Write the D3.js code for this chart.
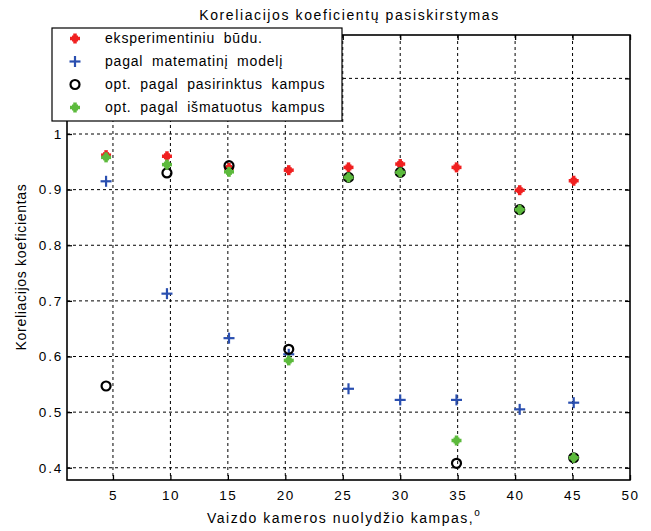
<!DOCTYPE html>
<html><head><meta charset="utf-8">
<script src="https://cdn.jsdelivr.net/npm/d3@7"></script>
<style>body{margin:0;background:#fff}text{font-family:"Liberation Sans",Arial,sans-serif;}</style>
</head><body><svg id="c" width="651" height="531"></svg>
<script>
const angles = [4.4, 9.7, 15.1, 20.3, 25.5, 30.0, 34.9, 40.4, 45.1];
const eksperimentinis = [0.962, 0.960, 0.939, 0.935, 0.940, 0.946, 0.940, 0.899, 0.916];
const matematinis = [0.915, 0.713, 0.633, 0.604, 0.542, 0.522, 0.522, 0.505, 0.517];
const pasirinktus = [0.547, 0.930, 0.943, 0.613, 0.922, 0.931, 0.408, 0.864, 0.418];
const ismatuotus = [0.958, 0.945, 0.932, 0.593, 0.922, 0.931, 0.449, 0.864, 0.418];
const xTicks = [5, 10, 15, 20, 25, 30, 35, 40, 45, 50];
const yTicks = [0.4, 0.5, 0.6, 0.7, 0.8, 0.9, 1.0, 1.1];
const yTickLabels = ["0.4", "0.5", "0.6", "0.7", "0.8", "0.9", "1", ""];
const legendLabels = ["eksperimentiniu būdu.", "pagal matematinį modelį", "opt. pagal pasirinktus kampus", "opt. pagal išmatuotus kampus"];
const titleText = "Koreliacijos koeficientų pasiskirstymas";
const yLabel = "Koreliacijos koeficientas";
const xLabel = "Vaizdo kameros nuolydžio kampas,";

const svg = d3.select("#c");
const L = 67, R = 630, T = 35, B = 480;
const x = d3.scaleLinear().domain([1, 50]).range([L, R]);
const y = d3.scaleLinear().domain([0.378, 1.178]).range([B, T]);

// grid
const g = svg.append("g");
g.selectAll(".gx").data(xTicks.filter(d => d < 50)).enter().append("line")
  .attr("x1", d => x(d)).attr("x2", d => x(d)).attr("y1", T).attr("y2", B)
  .attr("stroke", "#000").attr("stroke-width", 1).attr("stroke-dasharray", "3,3");
g.selectAll(".gy").data(yTicks).enter().append("line")
  .attr("x1", L).attr("x2", R).attr("y1", d => y(d)).attr("y2", d => y(d))
  .attr("stroke", "#000").attr("stroke-width", 1).attr("stroke-dasharray", "3,3");

// axes
const ax = d3.axisBottom(x).tickValues(xTicks).tickSize(-5).tickPadding(10).tickFormat(d3.format("d"));
const axT = d3.axisTop(x).tickValues(xTicks).tickSize(-5).tickFormat("");
const ay = d3.axisLeft(y).tickValues(yTicks).tickSize(-5).tickPadding(4).tickFormat((d, i) => yTickLabels[i]);
const ayR = d3.axisRight(y).tickValues(yTicks).tickSize(-5).tickFormat("");
function style(sel, ls){
  sel.select(".domain").remove();
  sel.selectAll("line").attr("stroke", "#000").attr("stroke-width", 1.3);
  sel.selectAll("text").attr("fill", "#000").style("font-size", "13.5px")
    .style("letter-spacing", ls + "px").style("font-family", '"Liberation Sans",Arial,sans-serif');
}
svg.append("g").attr("transform", `translate(0,${B})`).call(ax).call(style, 1.5);
svg.append("g").attr("transform", `translate(0,${T})`).call(axT).call(style, 0);
svg.append("g").attr("transform", `translate(${L},0)`).call(ay).call(style, 1.8);
svg.append("g").attr("transform", `translate(${R},0)`).call(ayR).call(style, 0);
svg.append("rect").attr("x", L).attr("y", T).attr("width", R - L).attr("height", B - T)
  .attr("fill", "none").attr("stroke", "#000").attr("stroke-width", 1.6);

// markers
function plus(sel, col, w, s){
  sel.append("line").attr("x1", -s).attr("x2", s).attr("y1", 0).attr("y2", 0).attr("stroke", col).attr("stroke-width", w);
  sel.append("line").attr("y1", -s).attr("y2", s).attr("x1", 0).attr("x2", 0).attr("stroke", col).attr("stroke-width", w);
}
function fatPlus(sel, col){
  plus(sel, col, 3.5, 5);
  sel.append("rect").attr("x", -3).attr("y", -3).attr("width", 6).attr("height", 6).attr("fill", col);
}
function circ(sel){
  sel.append("circle").attr("r", 4.5).attr("fill", "none").attr("stroke", "#000").attr("stroke-width", 2.2);
}
const series = [
  {vals: eksperimentinis, draw: s => fatPlus(s, "#f02020")},
  {vals: matematinis, draw: s => plus(s, "#2a4fb0", 2.2, 5.5)},
  {vals: pasirinktus, draw: circ},
  {vals: ismatuotus, draw: s => fatPlus(s, "#5cba3c")}
];
series.forEach(se => {
  svg.append("g").selectAll("g").data(se.vals).enter().append("g")
    .attr("transform", (d, i) => `translate(${x(angles[i])},${y(d)})`)
    .each(function(){ se.draw(d3.select(this)); });
});

// legend
const lg = svg.append("g");
lg.append("rect").attr("x", 52).attr("y", 28).attr("width", 290).attr("height", 93)
  .attr("fill", "#fff").attr("stroke", "#000").attr("stroke-width", 1.2);
legendLabels.forEach((t, i) => {
  const yy = 38.5 + i * 23;
  const m = lg.append("g").attr("transform", `translate(75,${yy})`);
  series[i].draw(m);
  lg.append("text").attr("x", 105).attr("y", yy + 4.5).text(t)
    .style("font-size", "14px").style("letter-spacing", "0.8px").style("word-spacing", "4px").attr("fill", "#000");
});

// titles
svg.append("text").attr("x", (L + R) / 2 + 1).attr("y", 20).attr("text-anchor", "middle")
  .style("font-size", "14px").style("letter-spacing", "1.6px").text(titleText);
svg.append("text").attr("transform", `translate(26,${267}) rotate(-90)`).attr("text-anchor", "middle")
  .style("font-size", "14px").style("letter-spacing", "0.7px").text(yLabel);
const xl = svg.append("text").attr("x", 207).attr("y", 523).style("font-size", "14px").style("letter-spacing", "1.5px");
xl.append("tspan").text(xLabel);
xl.append("tspan").attr("dy", -7).style("font-size", "10px").style("letter-spacing", "0px").text("o");
</script></body></html>
